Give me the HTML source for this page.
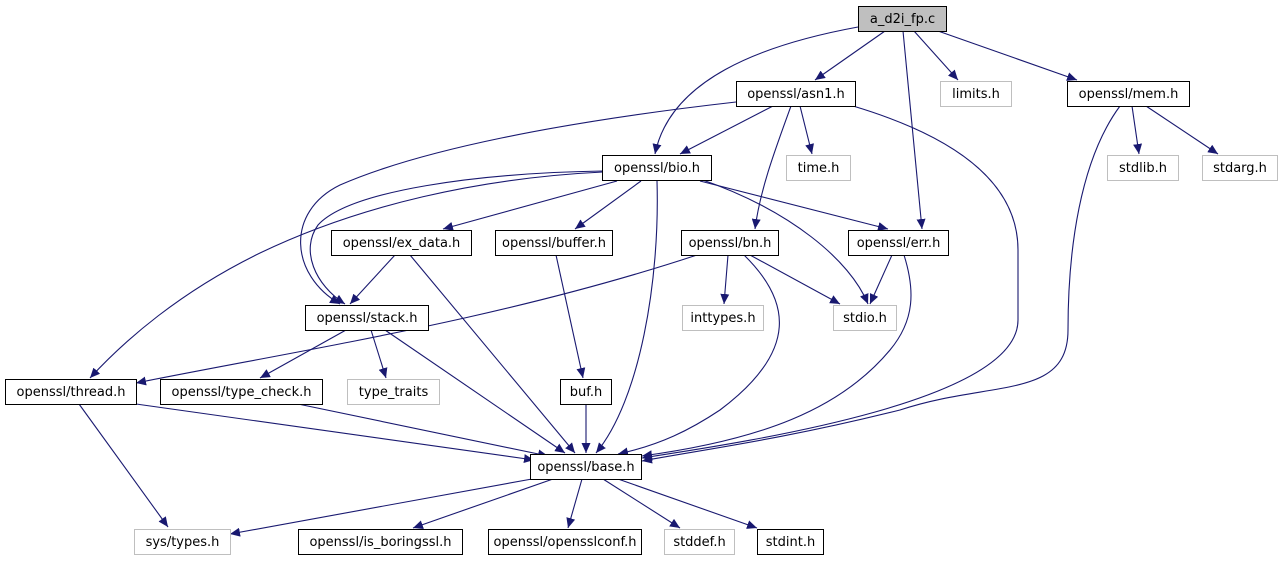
<!DOCTYPE html>
<html><head><meta charset="utf-8"><style>
html,body{margin:0;padding:0;background:#fff;}
svg text{font-family:"DejaVu Sans","Liberation Sans",sans-serif;font-size:13px;fill:#000;text-anchor:middle;}
</style></head><body>
<svg width="1283" height="560" viewBox="0 0 1283 560" xmlns="http://www.w3.org/2000/svg">
<defs>
<marker id="a" markerWidth="11" markerHeight="9" refX="10" refY="4.5" orient="auto" markerUnits="userSpaceOnUse">
<path d="M0,0 L10,4.5 L0,9 Z" fill="#191970"/>
</marker>
</defs>
<g fill="none" stroke="#191970" stroke-width="1.1" marker-end="url(#a)">
<path d="M858,27 C760,45 670,80 655,154"/>
<path d="M885,31 L815,80"/>
<path d="M903,31 L922,229"/>
<path d="M914,31 L958,80"/>
<path d="M938,31 L1077,80"/>
<path d="M736,102 C560,122 420,150 340,185 C285,212 290,275 340,304"/>
<path d="M773,106 L680,154"/>
<path d="M791,106 C775,150 760,190 755,229"/>
<path d="M800,106 L812,154"/>
<path d="M853,106 C950,135 1018,180 1018,250 L1018,320 C1018,400 760,440 642,458"/>
<path d="M1120,106 C1080,160 1068,250 1068,330 C1068,400 990,380 900,410 C780,440 700,450 642,461"/>
<path d="M1132,106 L1139,154"/>
<path d="M1146,106 L1218,154"/>
<path d="M603,172 C480,178 360,205 260,253 C180,292 125,340 90,378"/>
<path d="M603,171 C480,173 350,190 318,225 C300,250 315,285 345,304"/>
<path d="M617,181 L443,229"/>
<path d="M641,181 L575,229"/>
<path d="M657,181 C660,280 640,400 596,453"/>
<path d="M700,181 L888,229"/>
<path d="M700,179 C790,210 850,260 868,304"/>
<path d="M395,255 L350,304"/>
<path d="M410,255 L575,453"/>
<path d="M556,255 L583,378"/>
<path d="M697,255 C500,320 300,350 136,383"/>
<path d="M728,255 L724,304"/>
<path d="M750,255 L840,304"/>
<path d="M744,255 C790,300 800,350 720,410 C690,430 660,445 618,454"/>
<path d="M892,255 L870,304"/>
<path d="M904,255 C915,290 915,320 890,350 C840,410 760,440 642,456"/>
<path d="M346,330 L260,378"/>
<path d="M371,330 L386,378"/>
<path d="M385,330 L565,453"/>
<path d="M136,404 L534,460"/>
<path d="M298,404 L548,456"/>
<path d="M586,404 L586,453"/>
<path d="M79,404 L168,527"/>
<path d="M532,479 L230,534"/>
<path d="M553,479 L413,528"/>
<path d="M582,479 L568,528"/>
<path d="M603,479 L680,528"/>
<path d="M618,479 L757,528"/>
</g>
<g stroke-width="1">
<rect x="858.5" y="6.5" width="88" height="25" fill="#bfbfbf" stroke="#000"/>
<rect x="736.5" y="81.5" width="119" height="25" fill="#fff" stroke="#000"/>
<rect x="940.5" y="81.5" width="71" height="25" fill="#fff" stroke="#bfbfbf"/>
<rect x="1067.5" y="81.5" width="122" height="25" fill="#fff" stroke="#000"/>
<rect x="602.5" y="155.5" width="109" height="25" fill="#fff" stroke="#000"/>
<rect x="786.5" y="155.5" width="64" height="25" fill="#fff" stroke="#bfbfbf"/>
<rect x="1107.5" y="155.5" width="71" height="25" fill="#fff" stroke="#bfbfbf"/>
<rect x="1202.5" y="155.5" width="75" height="25" fill="#fff" stroke="#bfbfbf"/>
<rect x="331.5" y="230.5" width="140" height="25" fill="#fff" stroke="#000"/>
<rect x="495.5" y="230.5" width="117" height="25" fill="#fff" stroke="#000"/>
<rect x="681.5" y="230.5" width="97" height="25" fill="#fff" stroke="#000"/>
<rect x="848.5" y="230.5" width="100" height="25" fill="#fff" stroke="#000"/>
<rect x="305.5" y="305.5" width="123" height="25" fill="#fff" stroke="#000"/>
<rect x="682.5" y="305.5" width="81" height="25" fill="#fff" stroke="#bfbfbf"/>
<rect x="833.5" y="305.5" width="63" height="25" fill="#fff" stroke="#bfbfbf"/>
<rect x="5.5" y="379.5" width="131" height="25" fill="#fff" stroke="#000"/>
<rect x="160.5" y="379.5" width="162" height="25" fill="#fff" stroke="#000"/>
<rect x="347.5" y="379.5" width="92" height="25" fill="#fff" stroke="#bfbfbf"/>
<rect x="560.5" y="379.5" width="51" height="25" fill="#fff" stroke="#000"/>
<rect x="530.5" y="454.5" width="111" height="25" fill="#fff" stroke="#000"/>
<rect x="134.5" y="529.5" width="96" height="25" fill="#fff" stroke="#bfbfbf"/>
<rect x="298.5" y="529.5" width="164" height="25" fill="#fff" stroke="#000"/>
<rect x="488.5" y="529.5" width="153" height="25" fill="#fff" stroke="#000"/>
<rect x="664.5" y="529.5" width="70" height="25" fill="#fff" stroke="#bfbfbf"/>
<rect x="757.5" y="529.5" width="66" height="25" fill="#fff" stroke="#000"/>
</g>
<text x="902.5" y="23">a_d2i_fp.c</text>
<text x="796" y="98">openssl/asn1.h</text>
<text x="976" y="98">limits.h</text>
<text x="1128.5" y="98">openssl/mem.h</text>
<text x="657" y="172">openssl/bio.h</text>
<text x="818.5" y="172">time.h</text>
<text x="1143" y="172">stdlib.h</text>
<text x="1240" y="172">stdarg.h</text>
<text x="401.5" y="247">openssl/ex_data.h</text>
<text x="554" y="247">openssl/buffer.h</text>
<text x="730" y="247">openssl/bn.h</text>
<text x="898.5" y="247">openssl/err.h</text>
<text x="367" y="322">openssl/stack.h</text>
<text x="723" y="322">inttypes.h</text>
<text x="865" y="322">stdio.h</text>
<text x="71" y="396">openssl/thread.h</text>
<text x="241.5" y="396">openssl/type_check.h</text>
<text x="393.5" y="396">type_traits</text>
<text x="586" y="396">buf.h</text>
<text x="586" y="471">openssl/base.h</text>
<text x="182.5" y="546">sys/types.h</text>
<text x="380.5" y="546">openssl/is_boringssl.h</text>
<text x="565" y="546">openssl/opensslconf.h</text>
<text x="699.5" y="546">stddef.h</text>
<text x="790.5" y="546">stdint.h</text>
</svg>
</body></html>
